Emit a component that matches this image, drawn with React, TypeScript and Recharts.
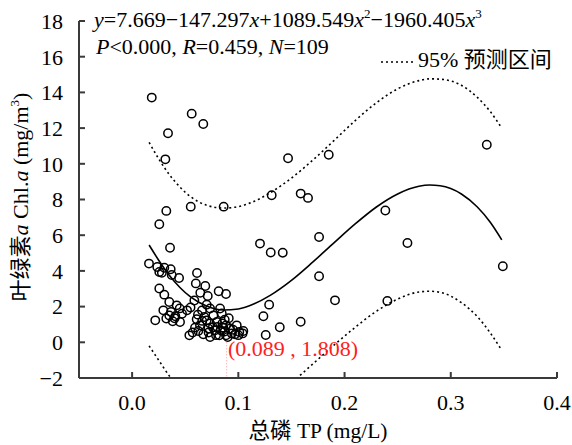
import React from 'react';
import { ComposedChart, XAxis, YAxis, Scatter, Line, ReferenceLine } from 'recharts';

// Observed samples: TP (mg/L) and Chl.a (mg/m3)
const pointsX = [
  0.0185, 0.0561, 0.067, 0.0338, 0.0313, 0.1314, 0.0862, 0.0552, 0.0322, 0.0256, 0.1204, 0.1305, 0.1418,
  0.1468, 0.1851, 0.1587, 0.1656, 0.3339, 0.2384, 0.176, 0.2592, 0.349, 0.176, 0.191, 0.2403, 0.1587,
  0.129, 0.1236, 0.1258, 0.139,
  0.0357, 0.0159, 0.0237, 0.0303, 0.0256, 0.0363, 0.0373, 0.0442, 0.0611, 0.0256,
  0.0303, 0.0689, 0.0642, 0.0712, 0.0815, 0.0884, 0.035, 0.0586, 0.0702, 0.042,
  0.0448, 0.0294, 0.0517, 0.0366, 0.0407, 0.0322, 0.0218, 0.0382, 0.0451, 0.0658,
  0.0734, 0.0828, 0.068, 0.0765, 0.0844, 0.0608, 0.0639, 0.0734, 0.0797, 0.0872,
  0.0884, 0.0539, 0.0623, 0.067, 0.0718, 0.0734, 0.0781, 0.0821, 0.0834, 0.0884,
  0.09, 0.0922, 0.0938, 0.0985, 0.1009, 0.1047, 0.0969, 0.0859, 0.0802, 0.0592,
  0.0702,
  0.04, 0.047, 0.035, 0.055, 0.062, 0.066, 0.072, 0.076, 0.079, 0.085,
  0.087, 0.091, 0.095, 0.1, 0.104, 0.057, 0.06, 0.028,
];
const pointsY = [
  13.71, 12.81, 12.23, 11.71, 10.25, 8.24, 7.6, 7.6, 7.36, 6.61, 5.53, 5.03, 5.02,
  10.31, 10.51, 8.33, 8.09, 11.07, 7.38, 5.9, 5.56, 4.26, 3.7, 2.35, 2.32, 1.15,
  2.11, 1.46, 0.41, 0.84,
  5.3, 4.41, 4.22, 4.18, 3.94, 4.09, 3.77, 3.6, 3.88, 3.01,
  2.67, 3.15, 2.78, 2.59, 2.86, 2.71, 2.26, 2.34, 2.11, 2.07,
  1.9, 1.79, 1.79, 1.7, 1.46, 1.33, 1.23, 1.18, 1.14, 1.78,
  1.89, 1.89, 1.42, 1.51, 1.61, 1.29, 0.95, 1.05, 1.14, 1.27,
  0.95, 0.39, 0.63, 0.45, 0.77, 0.3, 0.67, 0.39, 0.67, 0.39,
  0.3, 0.77, 0.49, 0.95, 0.58, 0.63, 0.45, 0.82, 0.86, 0.82,
  1.23,
  1.35, 1.6, 1.5, 1.95, 1.55, 1.2, 0.55, 0.85, 0.4, 1.05,
  0.6, 1.35, 0.7, 0.4, 0.5, 0.55, 3.3, 3.9,
];

// Fitted cubic curve and 95% prediction interval
const curveX = [0.016, 0.025, 0.035, 0.045, 0.055, 0.07, 0.086, 0.1, 0.115, 0.13, 0.15, 0.17, 0.19, 0.21, 0.23, 0.25, 0.27, 0.28, 0.29, 0.31, 0.325, 0.337, 0.348];
const fitY = [5.45, 4.6, 3.76, 3.07, 2.54, 2.03, 1.81, 1.87, 2.16, 2.63, 3.47, 4.49, 5.57, 6.63, 7.58, 8.31, 8.74, 8.81, 8.77, 8.31, 7.58, 6.74, 5.74];
const upperY = [11.2, 10.28, 9.4, 8.7, 8.16, 7.68, 7.52, 7.6, 7.9, 8.38, 9.2, 10.2, 11.3, 12.42, 13.42, 14.2, 14.66, 14.76, 14.74, 14.4, 13.72, 12.94, 12.0];
const lowerY = [-0.2, -1.0, -1.88, -2.57, -3.1, -3.63, -3.9, -3.86, -3.58, -3.12, -2.26, -1.22, -0.16, 0.84, 1.74, 2.42, 2.82, 2.86, 2.8, 2.22, 1.44, 0.54, -0.45];

const minPointX = 0.089;
const guideY = [0, -2];
const xTicks = [0, 0.1, 0.2, 0.3, 0.4];
const yTicks = [-2, 0, 2, 4, 6, 8, 10, 12, 14, 16, 18];

const points = pointsX.map((x, i) => ({ x, y: pointsY[i] }));
const fitData = curveX.map((x, i) => ({ x, y: fitY[i] }));
const upperData = curveX.map((x, i) => ({ x, y: upperY[i] }));
const lowerData = curveX.map((x, i) => ({ x, y: lowerY[i] }));

const FONT = 'Liberation Serif, DejaVu Serif, serif';
const CJK = 'Noto Sans CJK SC';
const AXIS = '#3a3a3a';

const Circle = (props: any) => (
  <circle cx={props.cx} cy={props.cy} r={4.2} fill="none" stroke="#000" strokeWidth={1.5} />
);

export default function App() {
  return (
    <div style={{ position: 'absolute', left: 0, top: 0, width: 572, height: 445, background: '#fff', fontFamily: FONT }}>
      <ComposedChart width={572} height={445} margin={{ top: 21, right: 15, bottom: 0, left: 0 }} style={{ fontFamily: FONT }}>
        <XAxis
          type="number"
          dataKey="x"
          domain={[-0.05, 0.4]}
          ticks={xTicks}
          allowDataOverflow
          height={67}
          tickSize={-6}
          tickMargin={22}
          tickFormatter={(v: number) => v.toFixed(1)}
          stroke={AXIS}
          strokeWidth={2}
          tick={{ fontSize: 22, fill: '#000', style: { fontFamily: FONT } }}
        />
        <YAxis
          type="number"
          domain={[-2, 18]}
          ticks={yTicks}
          allowDataOverflow
          width={79}
          tickSize={-6}
          tickMargin={22}
          tickFormatter={(v: number) => (v < 0 ? '\u2212' + Math.abs(v) : String(v))}
          stroke={AXIS}
          strokeWidth={2}
          tick={{ fontSize: 22, fill: '#000', style: { fontFamily: FONT } }}
        />
        <ReferenceLine
          segment={[{ x: minPointX, y: guideY[0] }, { x: minPointX, y: guideY[1] }]}
          stroke="#ff9a9a"
          strokeDasharray="1 2"
          strokeWidth={1}
        />
        <Line data={upperData} dataKey="y" type="monotone" dot={false} stroke="#000" strokeWidth={1.6} strokeDasharray="2 3" isAnimationActive={false} />
        <Line data={lowerData} dataKey="y" type="monotone" dot={false} stroke="#000" strokeWidth={1.6} strokeDasharray="2 3" isAnimationActive={false} />
        <Line data={fitData} dataKey="y" type="monotone" dot={false} stroke="#000" strokeWidth={1.6} isAnimationActive={false} />
        <Scatter data={points} dataKey="y" shape={Circle} isAnimationActive={false} />
      </ComposedChart>
      <svg width={572} height={445} style={{ position: 'absolute', left: 0, top: 0, pointerEvents: 'none', fontFamily: FONT }}>
        <text x={94} y={27} fontSize={22} fill="#000">
          <tspan fontStyle="italic">y</tspan>
          <tspan>=7.669−147.297</tspan>
          <tspan fontStyle="italic">x</tspan>
          <tspan>+1089.549</tspan>
          <tspan fontStyle="italic">x</tspan>
          <tspan fontSize={13} dy={-9}>2</tspan>
          <tspan dy={9}>−1960.405</tspan>
          <tspan fontStyle="italic">x</tspan>
          <tspan fontSize={13} dy={-9}>3</tspan>
        </text>
        <text x={96} y={54} fontSize={22} fill="#000">
          <tspan fontStyle="italic">P</tspan>
          <tspan>&lt;0.000, </tspan>
          <tspan fontStyle="italic">R</tspan>
          <tspan>=0.459, </tspan>
          <tspan fontStyle="italic">N</tspan>
          <tspan>=109</tspan>
        </text>
        <line x1={381} x2={416} y1={62} y2={62} stroke="#000" strokeWidth={1.6} strokeDasharray="2 3" />
        <text x={418} y={67} fontSize={22} fill="#000">
          <tspan>95% </tspan>
          <tspan style={{ fontFamily: CJK }}>预测区间</tspan>
        </text>
        <text x={228} y={356} fontSize={22} fill="#ff2020">(0.089 , 1.808)</text>
        <text x={318} y={438} fontSize={21.5} fill="#000" textAnchor="middle">
          <tspan style={{ fontFamily: CJK }}>总磷</tspan>
          <tspan> TP (mg/L)</tspan>
        </text>
        <text transform="translate(28,197) rotate(-90)" fontSize={22} fill="#000" textAnchor="middle">
          <tspan style={{ fontFamily: CJK }}>叶绿素</tspan>
          <tspan fontStyle="italic">a</tspan>
          <tspan> Chl.</tspan>
          <tspan fontStyle="italic">a</tspan>
          <tspan> (mg/m</tspan>
          <tspan fontSize={13} dy={-9}>3</tspan>
          <tspan dy={9}>)</tspan>
        </text>
      </svg>
    </div>
  );
}
